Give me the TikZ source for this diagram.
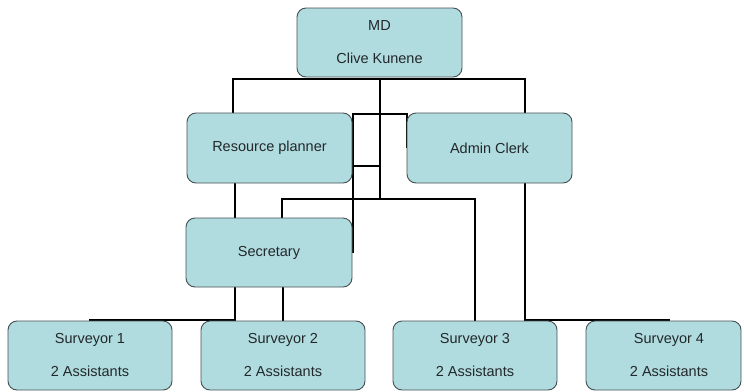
\documentclass[tikz,border=0pt]{standalone}
\usepackage{fontspec}
\setmainfont{Liberation Sans}
\definecolor{boxfill}{RGB}{176,220,224}
\definecolor{boxline}{RGB}{70,80,82}
\definecolor{txt}{RGB}{35,40,42}
\begin{document}
\begin{tikzpicture}[x=1pt,y=-1pt,
  orgbox/.style={draw=boxline, line width=0.9pt, fill=boxfill, rounded corners=9pt,
    minimum width=165pt, minimum height=69pt, inner sep=0pt, outer sep=0pt,
    align=center, text=txt, font=\fontsize{14.5}{33}\selectfont},
  boxtext/.style={inner sep=0pt, align=center, text=txt, font=\fontsize{14.5}{33}\selectfont},
  link/.style={line width=2.8pt, black, line cap=rect}]
\useasboundingbox (0,0) rectangle (744,391);
\fill[white] (0,0) rectangle (744,391);
% junction coordinates
\coordinate (mdb) at (380,79);
\coordinate (busL) at (233,79);
\coordinate (busR) at (525,79);
\coordinate (rpt) at (233,113);
\coordinate (act) at (525,113);
\coordinate (mid) at (380,199);
\coordinate (b1) at (353,114);
\coordinate (b2) at (407,114);
\coordinate (b2e) at (407,147);
\coordinate (b1e) at (353,252);
\coordinate (b3) at (353,166);
\coordinate (b4) at (380,166);
\coordinate (h1) at (282,199);
\coordinate (h2) at (475,199);
\coordinate (rpb) at (235,183);
\coordinate (sect) at (235,218);
\coordinate (sectb) at (282,218);
\coordinate (secb1) at (235,287);
\coordinate (secb2) at (283,287);
\coordinate (lb1) at (90,320);
\coordinate (lb2) at (235,320);
\coordinate (s2t) at (283,321);
\coordinate (s3t) at (475,321);
\coordinate (acb) at (525,183);
\coordinate (rb1) at (525,320);
\coordinate (rb2) at (669,320);
% connectors
\draw[link] (busL) -- (busR);
\draw[link] (busL) -- (rpt);
\draw[link] (busR) -- (act);
\draw[link] (mdb) -- (mid);
\draw[link] (b1e) -- (b1) -- (b2) -- (b2e);
\draw[link] (b3) -- (b4);
\draw[link] (sectb) -- (h1) -- (h2) -- (s3t);
\draw[link] (rpb) -- (sect);
\draw[link] (secb1) -- (lb2) -- (lb1);
\draw[link] (secb2) -- (s2t);
\draw[link] (acb) -- (rb1) -- (rb2);
% boxes
\node[orgbox] (md) at (379.5,42.5) {MD\\Clive Kunene};
\node[orgbox, minimum height=70pt] (rp) at (269.5,148) {Resource planner};
\node[orgbox, minimum height=70pt] (ac) at (489.5,148) {Admin Clerk};
\node[orgbox, minimum width=166pt] (sec) at (269,252.5) {Secretary};
\node[orgbox, minimum width=164pt] (s1) at (90,355.5) {Surveyor 1\\2 Assistants};
\node[orgbox, minimum width=164pt] (s2) at (283,355.5) {Surveyor 2\\2 Assistants};
\node[orgbox, minimum width=164pt] (s3) at (475,355.5) {Surveyor 3\\2 Assistants};
\node[orgbox, minimum width=155pt] (s4) at (663.5,355.5) {};
\node[boxtext] (s4t) at (669,355.5) {Surveyor 4\\2 Assistants};
\end{tikzpicture}
\end{document}
